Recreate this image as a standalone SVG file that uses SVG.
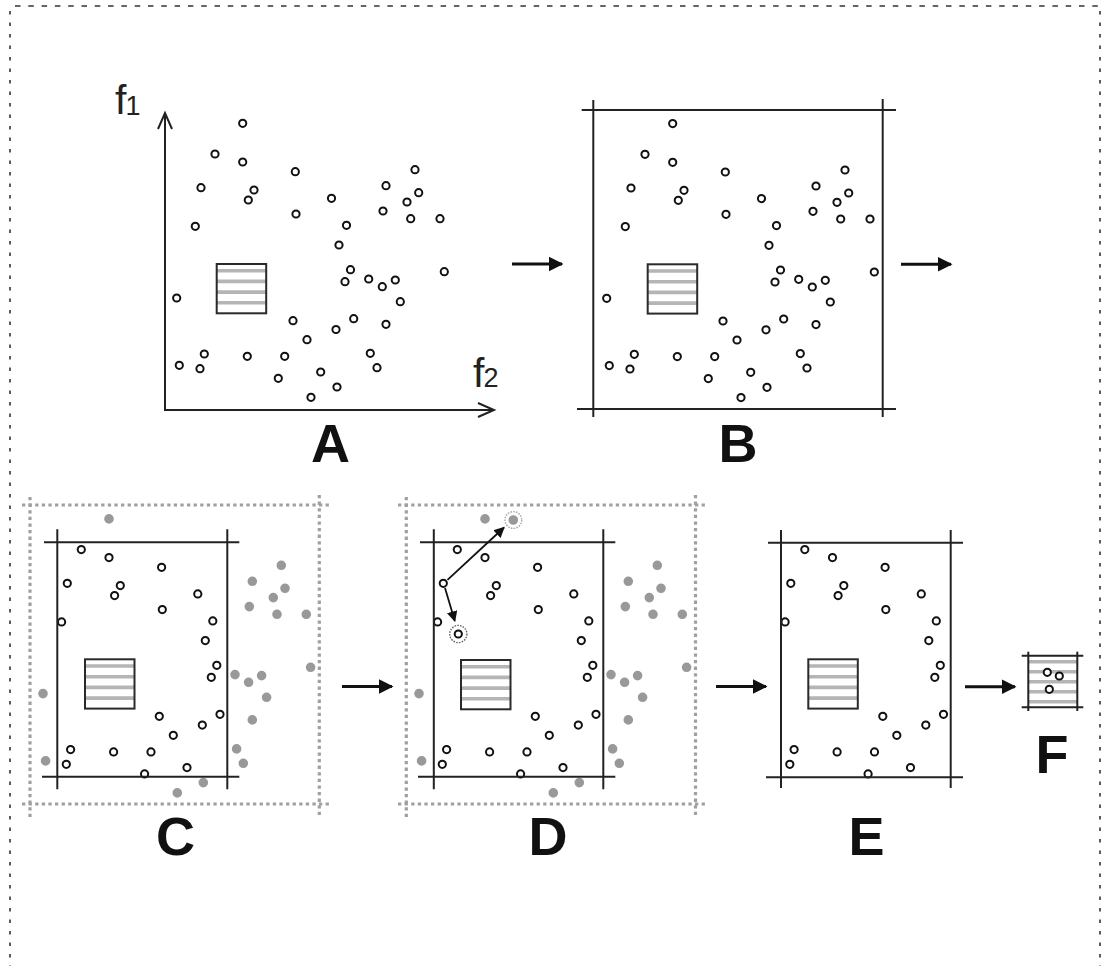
<svg xmlns="http://www.w3.org/2000/svg" xmlns:xlink="http://www.w3.org/1999/xlink" width="1107" height="966" viewBox="0 0 1107 966">
<style>
.ln{stroke:#222;stroke-width:2;fill:none}
.open{fill:#fff;stroke:#111;stroke-width:2}
.gray{fill:#999;stroke:#999;stroke-width:2.4}
.gdot{stroke:#a0a0a0;stroke-width:3.2;stroke-dasharray:3.3 3.3;fill:none}
.lbl{font-family:"Liberation Sans",Arial,sans-serif;font-weight:bold;font-size:54px;fill:#111;text-anchor:middle}
.ax{font-family:"Liberation Sans",Arial,sans-serif;fill:#222}
.arr{stroke:#111;stroke-width:3;fill:none}
</style>
<defs>
<marker id="ah" viewBox="0 0 10 10" refX="9" refY="5" markerWidth="5" markerHeight="5" orient="auto" markerUnits="strokeWidth">
<path d="M0,0 L10,5 L0,10 z" fill="#111"/>
</marker>
<marker id="ahs" viewBox="0 0 10 10" refX="9" refY="5" markerWidth="6" markerHeight="6" orient="auto" markerUnits="strokeWidth">
<path d="M0,0 L10,5 L0,10 z" fill="#111"/>
</marker>
<g id="inner">
<circle cx="215" cy="154" r="3.6"/><circle cx="242.7" cy="162" r="3.6"/><circle cx="295.3" cy="171.7" r="3.6"/>
<circle cx="201" cy="187.7" r="3.6"/><circle cx="254" cy="190" r="3.6"/><circle cx="248.3" cy="200" r="3.6"/>
<circle cx="331.5" cy="198.3" r="3.6"/><circle cx="296" cy="214" r="3.6"/><circle cx="195.3" cy="226.3" r="3.6"/>
<circle cx="346.5" cy="225.3" r="3.6"/><circle cx="339" cy="245" r="3.6"/><circle cx="350.5" cy="269.7" r="3.6"/>
<circle cx="345" cy="281.7" r="3.6"/><circle cx="293" cy="320.7" r="3.6"/><circle cx="336" cy="329.5" r="3.6"/>
<circle cx="307" cy="339.7" r="3.6"/><circle cx="204.3" cy="354" r="3.6"/><circle cx="200" cy="368.7" r="3.6"/>
<circle cx="247.3" cy="356.3" r="3.6"/><circle cx="284.7" cy="356.3" r="3.6"/><circle cx="278.3" cy="378.3" r="3.6"/>
<circle cx="320.7" cy="372" r="3.6"/><circle cx="353.7" cy="318.7" r="3.6"/>
</g>
<g id="outer">
<circle cx="242.7" cy="123.3" r="3.6"/><circle cx="176.7" cy="298" r="3.6"/><circle cx="179.3" cy="365.3" r="3.6"/>
<circle cx="337" cy="387" r="3.6"/><circle cx="311" cy="397.3" r="3.6"/><circle cx="415" cy="169.7" r="3.6"/>
<circle cx="386" cy="185.7" r="3.6"/><circle cx="418.7" cy="192.7" r="3.6"/><circle cx="407" cy="202" r="3.6"/>
<circle cx="383" cy="211" r="3.6"/><circle cx="410.7" cy="218.7" r="3.6"/><circle cx="440" cy="218.7" r="3.6"/>
<circle cx="368.7" cy="279" r="3.6"/><circle cx="382.3" cy="286.7" r="3.6"/><circle cx="395.3" cy="280" r="3.6"/>
<circle cx="444.3" cy="271.7" r="3.6"/><circle cx="400.3" cy="301.7" r="3.6"/><circle cx="386" cy="324.3" r="3.6"/>
<circle cx="370.3" cy="353.3" r="3.6"/><circle cx="377" cy="367.7" r="3.6"/>
</g>
<g id="sq">
<rect x="0" y="0" width="49.5" height="49.3" fill="#fff"/>
<g stroke="#b5b5b5" stroke-width="3.6">
<line x1="0" y1="6.7" x2="49.5" y2="6.7"/><line x1="0" y1="17.4" x2="49.5" y2="17.4"/>
<line x1="0" y1="28.1" x2="49.5" y2="28.1"/><line x1="0" y1="38.8" x2="49.5" y2="38.8"/>
</g>
<rect x="0" y="0" width="49.5" height="49.3" fill="none" stroke="#2a2a2a" stroke-width="2"/>
</g>
</defs>

<rect width="1107" height="966" fill="#fff"/>

<g id="border" stroke="#333" stroke-width="1.6" fill="none">
<line x1="15" y1="6" x2="1100" y2="6" stroke-dasharray="5.5 7.8"/>
<line x1="10" y1="11" x2="10" y2="966" stroke-dasharray="3.5 8"/>
<line x1="1100" y1="11" x2="1100" y2="966" stroke-dasharray="3.5 8"/>
</g>

<g id="panelA">
<use xlink:href="#sq" x="216.7" y="264"/>
<use xlink:href="#inner" class="open"/>
<use xlink:href="#outer" class="open"/>
<polyline class="ln" points="165,113 165,410 494,410"/>
<polyline class="ln" points="158,129 165,113 172,129"/>
<polyline class="ln" points="478,403 494,410 478,417"/>
<text class="ax" x="115" y="114" font-size="41" letter-spacing="-1">f<tspan font-size="27" dy="1">1</tspan></text>
<text class="ax" x="473" y="387" font-size="41" letter-spacing="-1">f<tspan font-size="27">2</tspan></text>
<text class="lbl" x="330.5" y="461.5">A</text>
</g>

<g id="panelB">
<use xlink:href="#sq" x="647.7" y="264.3"/>
<g transform="translate(430,0.3)">
<use xlink:href="#inner" class="open"/>
<use xlink:href="#outer" class="open"/>
</g>
<line class="ln" x1="593.3" y1="100" x2="593.3" y2="417"/>
<line class="ln" x1="882.7" y1="99" x2="882.7" y2="417"/>
<line class="ln" x1="581.7" y1="110" x2="896" y2="110"/>
<line class="ln" x1="577" y1="409" x2="896" y2="409"/>
<text class="lbl" x="738" y="461.5">B</text>
</g>

<g id="panelC">
<g class="gdot">
<line x1="22" y1="505" x2="331" y2="505"/>
<line x1="22" y1="804" x2="331" y2="804"/>
<line x1="30" y1="497" x2="30" y2="818"/>
<line x1="319.3" y1="495" x2="319.3" y2="818"/>
</g>
<use xlink:href="#sq" x="85" y="659.3"/>
<g transform="translate(-133.7,395.6)">
<use xlink:href="#inner" class="open"/>
<use xlink:href="#outer" class="gray"/>
</g>
<line class="ln" x1="57.3" y1="529.3" x2="57.3" y2="789.3"/>
<line class="ln" x1="227.3" y1="529.3" x2="227.3" y2="789.3"/>
<line class="ln" x1="44" y1="542.3" x2="239.3" y2="542.3"/>
<line class="ln" x1="42" y1="776.7" x2="239.3" y2="776.7"/>
<text class="lbl" x="175.5" y="855">C</text>
</g>

<g id="panelD">
<g class="gdot">
<line x1="398" y1="505" x2="707" y2="505"/>
<line x1="398" y1="804" x2="707" y2="804"/>
<line x1="406.3" y1="497" x2="406.3" y2="818"/>
<line x1="695.5" y1="495" x2="695.5" y2="818"/>
</g>
<use xlink:href="#sq" x="461" y="660"/>
<g transform="translate(242.3,395.6)">
<use xlink:href="#inner" class="open"/>
<use xlink:href="#outer" class="gray"/>
</g>
<line class="ln" x1="433.8" y1="529.3" x2="433.8" y2="789.3"/>
<line class="ln" x1="603.3" y1="529.3" x2="603.3" y2="789.3"/>
<line class="ln" x1="420" y1="542.3" x2="615.3" y2="542.3"/>
<line class="ln" x1="418" y1="776.7" x2="615.3" y2="776.7"/>
<circle cx="513.3" cy="520" r="8.4" fill="none" stroke="#aaa" stroke-width="1.4" stroke-dasharray="1.6 1.2"/>
<circle cx="513.3" cy="520" r="3.6" class="gray"/>
<circle cx="458.3" cy="634" r="8.6" fill="none" stroke="#666" stroke-width="1.4" stroke-dasharray="1.6 1.2"/>
<circle cx="458.3" cy="634" r="3.6" class="open"/>
<line x1="447.5" y1="579.8" x2="504" y2="527.5" stroke="#111" stroke-width="1.8" marker-end="url(#ahs)"/>
<line x1="445" y1="588" x2="454.8" y2="621" stroke="#111" stroke-width="1.8" marker-end="url(#ahs)"/>
<text class="lbl" x="548" y="855">D</text>
</g>

<g id="panelE">
<use xlink:href="#sq" x="808.3" y="659.3"/>
<g transform="translate(589.8,395.6)">
<use xlink:href="#inner" class="open"/>
</g>
<line class="ln" x1="781" y1="530" x2="781" y2="788"/>
<line class="ln" x1="950.7" y1="530" x2="950.7" y2="788"/>
<line class="ln" x1="768" y1="542.7" x2="963" y2="542.7"/>
<line class="ln" x1="766" y1="777.3" x2="963" y2="777.3"/>
<text class="lbl" x="866.5" y="855">E</text>
</g>

<g id="panelF">
<rect x="1028.3" y="655.7" width="49" height="51.6" fill="#fff"/>
<g stroke="#b5b5b5" stroke-width="3.6">
<line x1="1028.3" y1="661.8" x2="1077.3" y2="661.8"/>
<line x1="1028.3" y1="671.8" x2="1077.3" y2="671.8"/>
<line x1="1028.3" y1="681.8" x2="1077.3" y2="681.8"/>
<line x1="1028.3" y1="691.8" x2="1077.3" y2="691.8"/>
<line x1="1028.3" y1="701.8" x2="1077.3" y2="701.8"/>
</g>
<line class="ln" x1="1028.3" y1="651.7" x2="1028.3" y2="711"/>
<line class="ln" x1="1077.3" y1="651.7" x2="1077.3" y2="711"/>
<line class="ln" x1="1021.7" y1="655.7" x2="1083.3" y2="655.7"/>
<line class="ln" x1="1021.7" y1="707.3" x2="1083.3" y2="707.3"/>
<circle cx="1047.3" cy="672.3" r="3.6" class="open"/>
<circle cx="1059.3" cy="676" r="3.6" class="open"/>
<circle cx="1049.3" cy="689.3" r="3.6" class="open"/>
<text class="lbl" x="1052" y="773">F</text>
</g>

<g id="connectors">
<line class="arr" x1="512" y1="264" x2="562" y2="264" marker-end="url(#ah)"/>
<line class="arr" x1="901" y1="264.3" x2="951" y2="264.3" marker-end="url(#ah)"/>
<line class="arr" x1="342" y1="686.5" x2="392" y2="686.5" marker-end="url(#ah)"/>
<line class="arr" x1="716" y1="686.5" x2="766" y2="686.5" marker-end="url(#ah)"/>
<line class="arr" x1="965" y1="686.7" x2="1015" y2="686.7" marker-end="url(#ah)"/>
</g>
</svg>
